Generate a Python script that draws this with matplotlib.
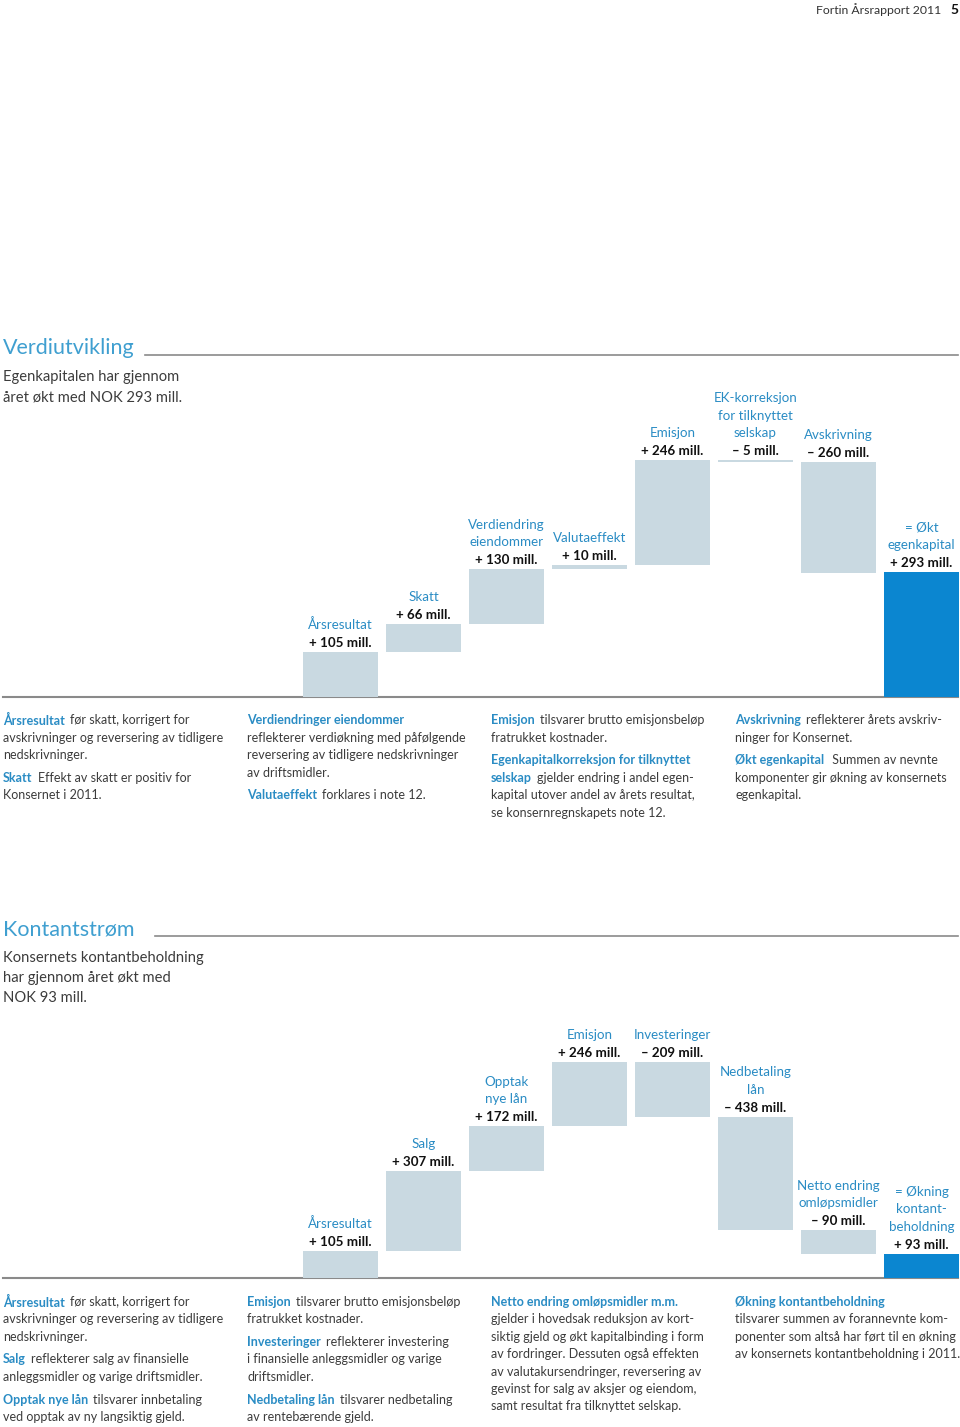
import numpy as np
import matplotlib
matplotlib.use("Agg")
import matplotlib.pyplot as plt

plt.rcParams['font.family'] = ['Lato', 'DejaVu Sans']

# --- data -----------------------------------------------------------------
eq_labels = ["Årsresultat", "Skatt", "Verdiendring\neiendommer", "Valutaeffekt",
             "Emisjon", "EK-korreksjon\nfor tilknyttet\nselskap", "Avskrivning",
             "= Økt\negenkapital"]
eq_values = [105, 66, 130, 10, 246, -5, -260, 293]

cash_labels = ["Årsresultat", "Salg", "Opptak\nnye lån", "Emisjon", "Investeringer",
               "Nedbetaling\nlån", "Netto endring\nomløpsmidler",
               "= Økning\nkontant-\nbeholdning"]
cash_values = [105, 307, 172, 246, -209, -438, -90, 93]

# notes: (column, line y, blue keyword, rest of line)
eq_notes = [
    (0, 720, "Årsresultat", "før skatt, korrigert for"),
    (0, 738, "", "avskrivninger og reversering av tidligere"),
    (0, 755, "", "nedskrivninger."),
    (0, 778, "Skatt", "Effekt av skatt er positiv for"),
    (0, 795, "", "Konsernet i 2011."),
    (1, 720, "Verdiendringer eiendommer", ""),
    (1, 738, "", "reflekterer verdiøkning med påfølgende"),
    (1, 755, "", "reversering av tidligere nedskrivninger"),
    (1, 773, "", "av driftsmidler."),
    (1, 795, "Valutaeffekt", "forklares i note 12."),
    (2, 720, "Emisjon", "tilsvarer brutto emisjonsbeløp"),
    (2, 738, "", "fratrukket kostnader."),
    (2, 760, "Egenkapitalkorreksjon for tilknyttet", ""),
    (2, 778, "selskap", "gjelder endring i andel egen-"),
    (2, 795, "", "kapital utover andel av årets resultat,"),
    (2, 813, "", "se konsernregnskapets note 12."),
    (3, 720, "Avskrivning", "reflekterer årets avskriv-"),
    (3, 738, "", "ninger for Konsernet."),
    (3, 760, "Økt egenkapital", " Summen av nevnte"),
    (3, 778, "", "komponenter gir økning av konsernets"),
    (3, 795, "", "egenkapital."),
]
cash_notes = [
    (0, 1302, "Årsresultat", "før skatt, korrigert for"),
    (0, 1319, "", "avskrivninger og reversering av tidligere"),
    (0, 1337, "", "nedskrivninger."),
    (0, 1359, "Salg", "reflekterer salg av finansielle"),
    (0, 1377, "", "anleggsmidler og varige driftsmidler."),
    (0, 1400, "Opptak nye lån", "tilsvarer innbetaling"),
    (0, 1417, "", "ved opptak av ny langsiktig gjeld."),
    (1, 1302, "Emisjon", "tilsvarer brutto emisjonsbeløp"),
    (1, 1319, "", "fratrukket kostnader."),
    (1, 1342, "Investeringer", "reflekterer investering"),
    (1, 1359, "", "i finansielle anleggsmidler og varige"),
    (1, 1377, "", "driftsmidler."),
    (1, 1400, "Nedbetaling lån", "tilsvarer nedbetaling"),
    (1, 1417, "", "av rentebærende gjeld."),
    (2, 1302, "Netto endring omløpsmidler m.m.", ""),
    (2, 1319, "", "gjelder i hovedsak reduksjon av kort-"),
    (2, 1337, "", "siktig gjeld og økt kapitalbinding i form"),
    (2, 1354, "", "av fordringer. Dessuten også effekten"),
    (2, 1372, "", "av valutakursendringer, reversering av"),
    (2, 1389, "", "gevinst for salg av aksjer og eiendom,"),
    (2, 1406, "", "samt resultat fra tilknyttet selskap."),
    (3, 1302, "Økning kontantbeholdning", ""),
    (3, 1319, "", "tilsvarer summen av forannevnte kom-"),
    (3, 1337, "", "ponenter som altså har ført til en økning"),
    (3, 1354, "", "av konsernets kontantbeholdning i 2011."),
]

BLUE = "#2a8cc4"
TITLE_BLUE = "#3f9fd0"
BAR_GRAY = "#c9d9e1"
BAR_BLUE = "#0b86d0"
TEXT = "#3c3c3c"
LINE = "#8a8a8a"
NOTE_FS = 9.0

W, H = 960, 1427
fig = plt.figure(figsize=(W / 100, H / 100), dpi=100)

# background axes in page pixels
bg = fig.add_axes([0, 0, 1, 1])
bg.set_xlim(0, W)
bg.set_ylim(H, 0)
bg.axis("off")

# header
bg.text(941, 10, "Fortin Årsrapport 2011", ha="right", va="center", fontsize=8.8, color="#333333")
bg.text(958, 10, "5", ha="right", va="center", fontsize=10, weight="bold", color="#111111")


def section(title, title_y, line_x, subtitle, base_y):
    bg.text(3, title_y, title, fontsize=15.5, color=TITLE_BLUE, va="center")
    bg.plot([line_x, 958], [title_y + 7, title_y + 7], color=LINE, lw=1.2)
    for k, s in enumerate(subtitle):
        bg.text(3, title_y + 29 + 20 * k, s, fontsize=10.6, color=TEXT, va="center")
    bg.plot([3, 958], [base_y, base_y], color=LINE, lw=1.5)


def notes(rows):
    col_x = [3, 247, 491, 735]
    for col, y, key, rest in rows:
        x = col_x[col]
        if key:
            t = bg.text(x, y, key, fontsize=NOTE_FS, color=BLUE, weight="bold", va="center")
            if rest:
                bg.annotate(rest, xy=(1, 0.5), xycoords=t, xytext=(5, 0),
                            textcoords="offset pixels", fontsize=NOTE_FS, color=TEXT, va="center")
        else:
            bg.text(x, y, rest, fontsize=NOTE_FS, color=TEXT, va="center")


def waterfall(values, labels, base_px, top_px, scale):
    # axes placed so that bar i sits at page x = 340.5 + 83 i
    ax = fig.add_axes([0, (H - base_px) / H, 1, (base_px - top_px) / H])
    ax.set_xlim(-340.5 / 83, (W - 340.5) / 83)
    ax.set_ylim(0, (base_px - top_px) / scale)
    ax.axis("off")
    vals = np.array(values, dtype=float)
    cum = np.concatenate([[0], np.cumsum(vals[:-1])])
    bottoms = np.where(vals[:-1] >= 0, cum[:-1], cum[:-1] + vals[:-1])
    heights = np.abs(vals[:-1])
    bottoms = np.append(bottoms, 0)
    heights = np.append(heights, vals[-1])
    colors = [BAR_GRAY] * (len(vals) - 1) + [BAR_BLUE]
    x = np.arange(len(vals))
    ax.bar(x, heights, bottom=bottoms, width=75 / 83, color=colors, linewidth=0)
    for i, (v, lab) in enumerate(zip(vals, labels)):
        top = bottoms[i] + heights[i]
        sign = "+" if v >= 0 else "–"
        ax.annotate(f"{sign} {abs(int(v))} mill.", xy=(i, top), xytext=(0, 3),
                    textcoords="offset pixels", ha="center", va="bottom",
                    fontsize=9.6, weight="bold", color="#111111")
        ax.annotate(lab, xy=(i, top), xytext=(0, 21), textcoords="offset pixels",
                    ha="center", va="bottom", fontsize=9.6, color=BLUE,
                    linespacing=1.55, multialignment="center")
    return ax


section("Verdiutvikling", 348, 145,
        ["Egenkapitalen har gjennom", "året økt med NOK 293 mill."], 697)
waterfall(eq_values, eq_labels, 697, 360, 0.425)
notes(eq_notes)

section("Kontantstrøm", 929, 155,
        ["Konsernets kontantbeholdning", "har gjennom året økt med", "NOK 93 mill."], 1278)
waterfall(cash_values, cash_labels, 1278, 1010, 0.26)
notes(cash_notes)

fig.savefig("out.png", dpi=100)
